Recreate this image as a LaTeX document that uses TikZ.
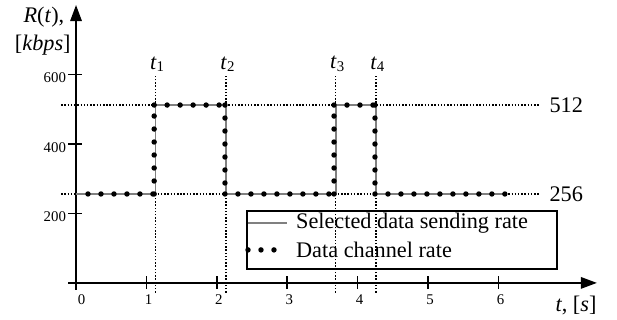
\documentclass[tikz,border=0pt]{standalone}
\usepackage{fontspec}
\setmainfont{Liberation Serif}
\usetikzlibrary{arrows.meta}

\begin{document}
\begin{tikzpicture}[x=1cm, y=0.987cm, font=\fontsize{9}{10}\selectfont]
      \tikzstyle{axis} = [line width=0.8pt, -{Triangle[length=6.5pt, width=4.6pt]}]
      \tikzstyle{tick} = [line width=0.6pt]
      \tikzstyle{guide} = [line width=0.5pt, dash pattern=on 0.6pt off 0.7pt]
      \tikzstyle{rate} = [line width=0.6pt, color=gray]
      \tikzstyle{chan} = [line width=2.2pt, line cap=round, dash pattern=on 0pt off 5.25pt]
      \tikzstyle{num} = [font=\fontsize{6}{7}\selectfont, inner sep=1pt]
      \tikzstyle{level} = [anchor=west, inner sep=3.7pt]
      \useasboundingbox (-1.08,-0.532) rectangle (7.685,4.072);

      % axes
      \coordinate (xs) at (-0.11,0);
      \coordinate (xe) at (7.4,0);
      \coordinate (ys) at (0,-0.1);
      \coordinate (ye) at (0,4.0);
      \draw[axis] (xs) -- (xe);
      \draw[axis] (ys) -- (ye);
      \node (Rt) [anchor=east, inner sep=0pt] at (-0.16,3.83) {\textit{R}(\textit{t}),};
      \node (kbps) [anchor=east, inner sep=0pt] at (-0.07,3.42) {[\textit{kbps}]};
      \node (ts) [anchor=east, inner sep=0pt] at (7.4,-0.32) {\textit{t}, [\textit{s}]};

      \foreach \v/\lab in {1/200, 2/400, 3/600} {
        \draw[tick] (-0.11,\v) -- (0.085,\v);
        \node (y\lab) [num, anchor=east] at (-0.1,\v-0.05) {\lab};
      }
      \node (x0) [num] at (0.08,-0.245) {0};
      \foreach \s in {1,...,6} {
        \draw[tick] (\s,-0.09) -- (\s,0.1);
        \node (x\s) [num] at (\s+0.03,-0.245) {\s};
      }

      % levels
      \coordinate (g512) at (-0.21,2.56);
      \coordinate (g256) at (-0.21,1.28);
      \node (l512) [level] at (6.59,2.56) {512};
      \node (l256) [level] at (6.59,1.28) {256};
      \draw[guide] (g512) -- (l512.west);
      \draw[guide] (g256) -- (l256.west);

      \foreach \i/\t in {1/1.13, 2/2.13, 3/3.69, 4/4.26} {
        \coordinate (b\i) at (\t,-0.14);
        \coordinate (e\i) at (\t,2.99);
        \node (t\i) [anchor=south, inner sep=1pt] at (\t+0.03,3.0) {\textit{t}\textsubscript{\i}};
        \draw[guide] (b\i) -- (e\i);
      }

      % rates
      \draw[rate] (0,1.28) -- (1.13,1.28) -- (1.13,2.56) -- (2.13,2.56) -- (2.13,1.28)
        -- (3.69,1.28) -- (3.69,2.56) -- (4.26,2.56) -- (4.26,1.28) -- (6.1,1.28);
      \draw[chan] (0.17,1.28) -- (1.11,1.28) (1.11,1.28) -- (1.11,2.56)
        (1.11,2.56) -- (2.116,2.56) (2.116,2.56) -- (2.116,1.28)
        (2.116,1.28) -- (3.665,1.28) (3.665,1.28) -- (3.665,2.56)
        (3.665,2.56) -- (4.247,2.56) (4.247,2.56) -- (4.247,1.28)
        (4.247,1.28) -- (6.12,1.28);

      % legend
      \node (legend) [draw, line width=0.6pt, inner sep=0pt, minimum width=4.405cm,
        minimum height=0.828cm] at (4.628,0.617) {};
      \coordinate (la) at (2.443,0.863);
      \coordinate (lb) at (2.997,0.863);
      \coordinate (lc) at (2.443,0.475);
      \coordinate (ld) at (2.82,0.475);
      \draw[rate] (la) -- (lb);
      \draw[chan] (lc) -- (ld);
      \node (sel) [anchor=west, inner sep=0pt] at (3.12,0.863) {Selected data sending rate};
      \node (dch) [anchor=west, inner sep=0pt] at (3.12,0.475) {Data channel rate};
    \end{tikzpicture}
\end{document}
